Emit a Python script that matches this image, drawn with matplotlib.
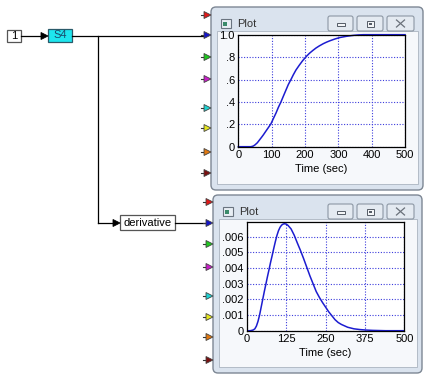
import numpy as np
import matplotlib.pyplot as plt
from matplotlib.patches import Rectangle, FancyBboxPatch, Polygon

plt.rcParams['font.family'] = ['Liberation Sans', 'DejaVu Sans']

# step response
t_step = [0, 20, 38, 45, 50, 57, 63, 70, 75, 83, 90, 98, 105, 113, 120, 128,
          135, 143, 150, 158, 165, 173, 183, 193, 203, 213, 223, 233, 243, 255,
          265, 275, 290, 305, 325, 345, 360, 375, 400, 450, 500]
y_step = [0, 0, 0, 0.006, 0.016, 0.035, 0.058, 0.085, 0.105, 0.14, 0.17, 0.205,
          0.25, 0.3, 0.35, 0.4, 0.45, 0.506, 0.555, 0.6, 0.642, 0.685, 0.728,
          0.768, 0.803, 0.833, 0.858, 0.881, 0.9, 0.92, 0.934, 0.946, 0.962,
          0.975, 0.986, 0.994, 0.998, 1.0, 1.0, 1.0, 1.0]

# derivative
t_der = [0, 10, 15, 20, 25, 30, 35, 40, 45, 50, 55, 60, 65, 70, 75, 80, 85, 90,
         95, 100, 105, 110, 115, 120, 125, 130, 140, 150, 160, 170, 180, 190,
         200, 210, 220, 230, 240, 250, 260, 270, 280, 290, 300, 320, 340, 360,
         380, 400, 420, 440, 500]
y_der = [0, 0, 0.00002, 0.00005, 0.00012, 0.0003, 0.0006, 0.001, 0.0015, 0.002,
         0.0025, 0.00297, 0.00345, 0.0039, 0.00437, 0.0048, 0.00525, 0.00568,
         0.00607, 0.00638, 0.0066, 0.00674, 0.00681, 0.00683, 0.0068, 0.00673,
         0.0065, 0.0061, 0.0056, 0.00512, 0.0046, 0.00405, 0.0035, 0.003,
         0.0025, 0.00213, 0.0018, 0.0015, 0.0012, 0.00095, 0.0007, 0.00052,
         0.0004, 0.00022, 0.00012, 0.00007, 0.00004, 0.00002, 0.00001, 0, 0]

xt1 = [0, 100, 200, 300, 400, 500]
yt1 = [0, 0.2, 0.4, 0.6, 0.8, 1.0]
yl1 = ['0', '.2', '.4', '.6', '.8', '1.0']
xt2 = [0, 125, 250, 375, 500]
yt2 = [0, 0.001, 0.002, 0.003, 0.004, 0.005, 0.006]
yl2 = ['0', '.001', '.002', '.003', '.004', '.005', '.006']

port_colors = ['#e01818', '#1414c8', '#1ec81e', '#c81ec8', '#1ed2d2',
               '#e6e61e', '#e07810', '#7a1010']

W, H = 432, 383
fig = plt.figure(figsize=(W / 100, H / 100), dpi=100)
bg = fig.add_axes([0, 0, 1, 1])
bg.set_xlim(0, W)
bg.set_ylim(H, 0)
bg.axis('off')

fs = 8


def arrow_head(x, y, color, size=7, ec=None):
    p = Polygon([[x - size, y - size / 2], [x, y], [x - size, y + size / 2]],
                closed=True, fc=color, ec=ec or color, lw=0.6, zorder=5)
    bg.add_patch(p)


def window(x0, y0, x1, y1, ports_y):
    frame = FancyBboxPatch((x0, y0), x1 - x0, y1 - y0,
                           boxstyle='round,pad=0,rounding_size=5',
                           fc='#dae3ee', ec='#7d8794', lw=1.0, zorder=1)
    bg.add_patch(frame)
    bg.add_patch(Rectangle((x0 + 6, y0 + 24), x1 - x0 - 11, y1 - y0 - 30,
                           fc='#f6f8fb', ec='#aab4c0', lw=0.6, zorder=2))
    # title icon and text
    bg.add_patch(Rectangle((x0 + 10, y0 + 12), 10, 9, fc='#e8eef4',
                           ec='#6a7480', lw=0.8, zorder=3))
    bg.add_patch(Rectangle((x0 + 12, y0 + 15), 4, 4, fc='#3a8a6a',
                           ec='none', zorder=3))
    bg.text(x0 + 26, y0 + 17, 'Plot', fontsize=fs, color='#333333',
            va='center', ha='left', zorder=3)
    # buttons
    by = y0 + 9
    for bx0, bx1, kind in [(328, 353, 'min'), (357, 383, 'max'), (387, 414, 'close')]:
        bg.add_patch(FancyBboxPatch((bx0, by), bx1 - bx0, 15,
                                    boxstyle='round,pad=0,rounding_size=2',
                                    fc='#e4eaf1', ec='#8c97a4', lw=0.8, zorder=3))
        cx, cy = (bx0 + bx1) / 2, by + 7.5
        if kind == 'min':
            bg.add_patch(Rectangle((cx - 4, cy - 1), 8, 3, fc='#f4f6f8',
                                   ec='#555c66', lw=0.7, zorder=4))
        elif kind == 'max':
            bg.add_patch(Rectangle((cx - 3.5, cy - 3), 7, 6, fc='#f4f6f8',
                                   ec='#555c66', lw=0.7, zorder=4))
            bg.add_patch(Rectangle((cx - 1.5, cy - 1), 3, 2, fc='#555c66',
                                   ec='none', zorder=4))
        else:
            bg.plot([cx - 4, cx + 4], [cy - 3.5, cy + 3.5], color='#6a717a', lw=0.9, zorder=4)
            bg.plot([cx - 4, cx + 4], [cy + 3.5, cy - 3.5], color='#6a717a', lw=0.9, zorder=4)
    # input ports
    for py, c in zip(ports_y, port_colors):
        bg.plot([x0 - 10, x0 - 7], [py, py], color='#333333', lw=0.8, zorder=4)
        arrow_head(x0, py, c, size=7, ec='#444444')


window(211, 7, 423, 190, [15, 35, 57, 79, 108, 128, 152, 173])
window(213, 195, 422, 373, [202, 223, 244, 267, 296, 317, 337, 360])

# block diagram
bg.add_patch(Rectangle((7, 30), 14, 12, fc='white', ec='#555555', lw=0.9))
bg.text(14, 36, '1', fontsize=fs, ha='center', va='center')
bg.plot([21, 42], [36, 36], color='black', lw=0.9)
arrow_head(48, 36, 'black', size=7)
bg.add_patch(Rectangle((48, 29), 24, 13, fc='#1ee6ee', ec='#2a5a6a', lw=0.9))
bg.text(60, 35.5, 'S4', fontsize=fs, ha='center', va='center', color='#1a4a6a')
bg.plot([72, 204], [36, 36], color='black', lw=0.9)
bg.plot([98, 98], [36, 223], color='black', lw=0.9)
bg.plot([98, 113], [223, 223], color='black', lw=0.9)
arrow_head(120, 223, 'black', size=7)
bg.add_patch(Rectangle((120, 215), 55, 15, fc='white', ec='#555555', lw=0.9))
bg.text(147.5, 222.5, 'derivative', fontsize=fs, ha='center', va='center')
bg.plot([175, 205], [223, 223], color='black', lw=0.9)


def add_plot(l, t, r, b):
    return fig.add_axes([l / W, 1 - b / H, (r - l) / W, (b - t) / H])


grid_kw = dict(color='#3c3cdc', lw=0.8, linestyle=(0, (1, 1.5)))

ax1 = add_plot(238.3, 34.7, 405, 146.7)
ax1.plot(t_step, y_step, color='#1c1cd0', lw=1.1, clip_on=False)
ax1.set_xlim(0, 500)
ax1.set_ylim(0, 1.0)
ax1.set_xticks(xt1)
ax1.set_yticks(yt1)
ax1.set_yticklabels(yl1)
ax1.grid(True, **grid_kw)
ax1.set_xlabel('Time (sec)', fontsize=fs, labelpad=3)

ax2 = add_plot(247, 222, 404.3, 330.7)
ax2.plot(t_der, y_der, color='#1c1cd0', lw=1.1)
ax2.set_xlim(0, 500)
ax2.set_ylim(0, 0.00694)
ax2.set_xticks(xt2)
ax2.set_yticks(yt2)
ax2.set_yticklabels(yl2)
ax2.grid(True, **grid_kw)
ax2.set_xlabel('Time (sec)', fontsize=fs, labelpad=3)

for ax in (ax1, ax2):
    ax.set_facecolor('white')
    ax.tick_params(length=0, labelsize=fs, pad=2.5)
    for s in ax.spines.values():
        s.set_color('black')
        s.set_linewidth(0.9)

fig.savefig('out.png', dpi=100)
